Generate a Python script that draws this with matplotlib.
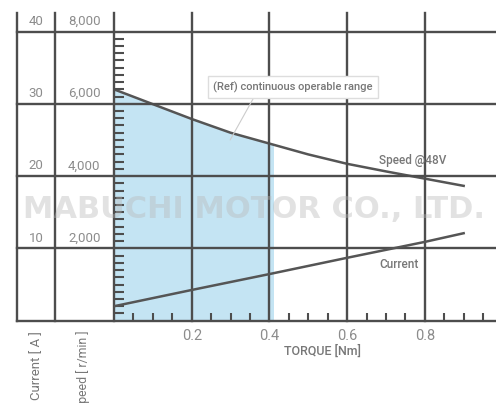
import numpy as np
import matplotlib; matplotlib.use('Agg')
import matplotlib.pyplot as plt
from matplotlib.patches import Rectangle

# values
torque = np.array([0.0, 0.1, 0.2, 0.3, 0.4, 0.5, 0.6, 0.7, 0.8, 0.9])            # Nm
speed = np.array([6400, 5990, 5580, 5200, 4900, 4600, 4340, 4130, 3930, 3730])      # r/min
cur_torque = np.array([0.0, 0.2, 0.4, 0.6, 0.8, 0.9])
current = np.array([2.0, 4.25, 6.45, 8.7, 10.9, 12.1])                               # A
op_limit = 0.41                                                                     # continuous operable range edge
x_major = [0.2, 0.4, 0.6, 0.8, 1.0]
x_labels = ['0.2', '0.4', '0.6', '0.8', '1']
cur_levels = [10, 20, 30, 40]
speed_levels = ['2,000', '4,000', '6,000', '8,000']

W, H = 496, 403
fig = plt.figure(figsize=(W/100, H/100), dpi=100)
ax = fig.add_axes([114/W, 82.3/H, 388.5/W, 307.7/H])
ax.set_xlim(0, 1.0); ax.set_ylim(0, 42.56)
ax2 = ax.twinx(); ax2.set_ylim(0, 42.56*200)
ax.set_zorder(ax2.get_zorder() + 1); ax.patch.set_visible(False)
for a in (ax, ax2):
    for s in a.spines.values(): s.set_visible(False)
ax2.set_yticks([])

lc = '#4d4d4d'; tc = '#8c8c8c'; lab = '#777777'
FN = 'Roboto'

# fill under speed curve, clipped to operable range
fb = ax2.fill_between(torque, 0, speed, color='#c4e4f3', lw=0, zorder=1)
fb.set_clip_path(Rectangle((0, 0), op_limit, 9000, transform=ax2.transData))
ax2.plot(torque, speed, color='#555555', lw=1.8, zorder=4)

# grid / frame
xl = -0.2497
ax.plot([xl, 1.05], [0, 0], color=lc, lw=1.7, transform=ax.get_yaxis_transform(), clip_on=False, zorder=3)
for v in cur_levels:
    ax.plot([xl, 1.05], [v, v], color=lc, lw=1.7, transform=ax.get_yaxis_transform(), clip_on=False, zorder=3)
for xv in [xl, -0.1519, 0.0]:
    ax.plot([xv, xv], [0, 1], color=lc, lw=1.7, transform=ax.get_xaxis_transform(), clip_on=False, zorder=3)
for xv in x_major[:-1]:
    ax.plot([xv, xv], [0, 1], color=lc, lw=1.7, transform=ax.get_xaxis_transform(), clip_on=False, zorder=3)

# ticks
ax.set_yticks([i for i in range(1, 40) if i % 10])
ax.set_yticklabels([])
ax.tick_params(axis='y', direction='in', length=7, width=1.5, color=lc, pad=0)
ax.set_xticks(x_major)
ax.set_xticklabels(x_labels, fontsize=10.5, color=tc, fontfamily=FN)
ax.tick_params(axis='x', length=0, pad=6)
ax.set_xticks([round(0.05*i, 2) for i in range(1, 20) if i % 4], minor=True)
ax.tick_params(axis='x', which='minor', direction='in', length=6, width=1.5, color=lc)

for v, s in zip(cur_levels, speed_levels):
    ax.text(-0.2, v + 0.5, str(v), transform=ax.get_yaxis_transform(), ha='center', va='bottom',
            fontsize=9.5, color=tc, fontfamily=FN)
    ax.text(-0.0765, v + 0.5, s, transform=ax.get_yaxis_transform(), ha='center', va='bottom',
            fontsize=9.5, color=tc, fontfamily=FN)

# current curve
ax.plot(cur_torque, current, color='#555555', lw=1.8, zorder=4)

ax.text(0.682, 22.2, 'Speed @48V', fontsize=8.5, color=lab, fontfamily=FN, fontweight='medium', ha='left', va='center', zorder=5)
ax.text(0.682, 7.8, 'Current', fontsize=8.5, color=lab, fontfamily=FN, fontweight='medium', ha='left', va='center', zorder=5)
ax.annotate('(Ref) continuous operable range', xy=(0.299, 25.0), xytext=(0.461, 32.3),
            ha='center', va='center', fontsize=8, color=lab, fontfamily=FN, fontweight='medium', zorder=5,
            bbox=dict(boxstyle='square,pad=0.5', fc='white', ec='#dddddd', lw=1),
            arrowprops=dict(arrowstyle='-', color='#cccccc', lw=0.8, relpos=(0.27, 0), shrinkA=0, shrinkB=0))

# watermark
fig.text(254/W, 1 - 210/H, 'MABUCHI MOTOR CO., LTD.', ha='center', va='center', fontsize=22,
         fontweight='heavy', color='#b8b8b8', alpha=0.4, zorder=10)

# axis titles
fig.text(323/W, 1 - 351/H, 'TORQUE [Nm]', ha='center', va='center', fontsize=9, color=lab,
         fontfamily=FN, fontweight='medium')
fig.text(37/W, 1 - 331/H, 'Current [ A ]', rotation=90, ha='center', va='top', fontsize=9.5, color=lab,
         fontfamily=FN)
fig.text(83/W, 1 - 330/H, 'Speed [ r/min ]', rotation=90, ha='center', va='top', fontsize=8.8, color=lab,
         fontfamily=FN)

fig.savefig('out.png', dpi=100)
